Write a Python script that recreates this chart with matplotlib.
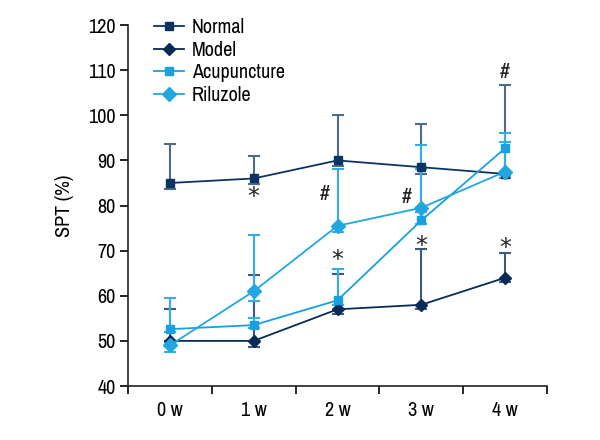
import matplotlib
matplotlib.use("Agg")
import matplotlib.pyplot as plt
from matplotlib import font_manager as fm
import numpy as np

weeks = ["0 w", "1 w", "2 w", "3 w", "4 w"]

normal = [85, 86, 90, 88.5, 87]
normal_hi = [93.6, 91, 100, 98, 106.7]
normal_lo = [83.7, 84.8, 88.8, 87, 86]

model = [50, 50, 57, 58, 64]
model_hi = [57.1, 64.6, 64.8, 70.4, 69.5]
model_lo = [49, 48.7, 56, 57, 63]

acup = [52.6, 53.5, 59, 76.7, 92.7]
acup_hi = [59.5, 55, 66, 93.4, 94]
acup_lo = [52, 52.8, 58, 76, 86.8]

rilu = [49, 61, 75.5, 79.5, 87.5]
rilu_hi = [50, 73.5, 88.1, 88, 96]
rilu_lo = [47.5, 58.9, 74.2, 78.5, 86.1]

marks = [("*", 1, 83), ("#", 1.85, 82.6), ("*", 2, 69), ("#", 2.83, 81.9),
         ("*", 3, 72), ("#", 4, 109.6), ("*", 4, 71.5)]

names = sorted(set(f.name for f in fm.fontManager.ttflist))
cands = [n for n in names if "Narrow" in n or "Condensed" in n]
fam = cands[0] if cands else "Roboto"
plt.rcParams["font.family"] = [fam, "DejaVu Sans"]
fs = 14.5 if cands else 12

fig = plt.figure(figsize=(6, 4.4), dpi=100)
ax = fig.add_axes([0.2133, 0.1227, 0.6984, 0.8203])
x = np.arange(len(weeks))

series = [
    ("Normal", normal, normal_hi, normal_lo, "#0c3462", "#4d6b8a", "s", 6),
    ("Model", model, model_hi, model_lo, "#0a2b55", "#3d5a7a", "D", 6),
    ("Acupuncture", acup, acup_hi, acup_lo, "#19a0e0", "#35ace3", "s", 6),
    ("Riluzole", rilu, rilu_hi, rilu_lo, "#22a6e0", "#35ace3", "D", 7),
]
for name, v, hi, lo, c, ec, m, ms in series:
    v = np.array(v); hi = np.array(hi); lo = np.array(lo)
    ax.errorbar(x, v, yerr=[v - lo, hi - v], fmt="none", ecolor=ec,
                elinewidth=1.5, capsize=4, capthick=1.5, zorder=2)
    ax.plot(x, v, color=c, marker=m, markersize=ms, linewidth=1.3,
            label=name, zorder=3)

for s, xx, yy in marks:
    if s == "*":
        ax.text(xx, yy - 1.0, s, ha="center", va="center", fontsize=17,
                family="DejaVu Sans", color="#222222")
    else:
        ax.text(xx, yy, s, ha="center", va="center", fontsize=fs + 1,
                color="#222222")

ax.set_xlim(-0.5, 4.5)
ax.set_ylim(40, 120)
ax.set_yticks(range(40, 121, 10))
ax.set_xticks(np.arange(-0.5, 4.6, 1))
ax.set_xticklabels([])
ax.set_xticks(x, minor=True)
ax.set_xticklabels(weeks, minor=True)
ax.tick_params(axis="x", which="minor", length=0, pad=11, labelsize=fs)
ax.tick_params(axis="x", which="major", length=6, width=1.2)
ax.tick_params(axis="y", length=6, width=1.2, labelsize=fs, pad=3)
for sp in ["top", "right"]:
    ax.spines[sp].set_visible(False)
for sp in ["left", "bottom"]:
    ax.spines[sp].set_linewidth(1.2)
    ax.spines[sp].set_color("#222222")
ax.set_ylabel("SPT (%)", fontsize=fs, labelpad=10)

ax.legend(loc="upper left", bbox_to_anchor=(0.018, 1.07), frameon=False,
          fontsize=fs, handlelength=1.5, handletextpad=0.4, labelspacing=0.18)

fig.savefig("out.png", dpi=100)
